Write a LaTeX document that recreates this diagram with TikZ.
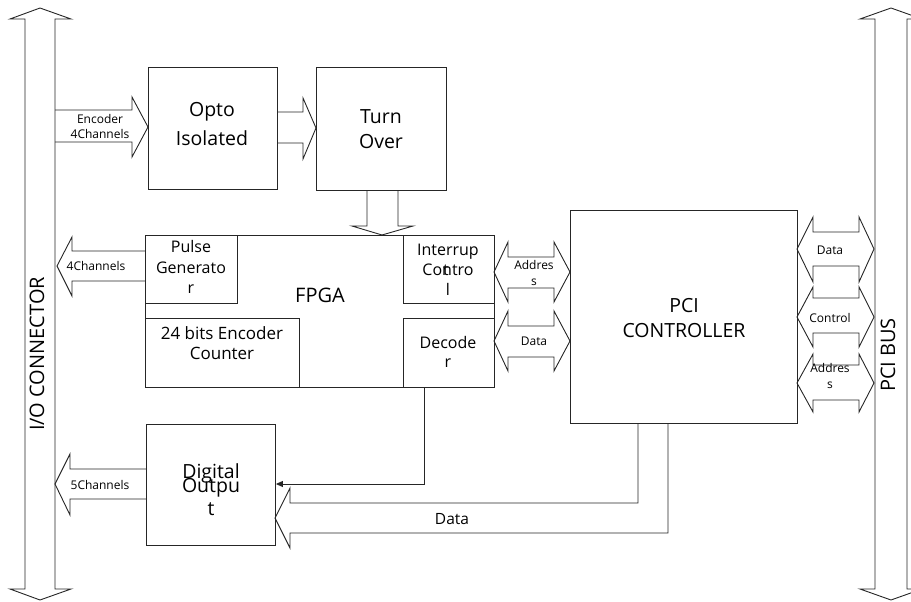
\documentclass[tikz,border=0pt]{standalone}
\usepackage{fontspec}
\setmainfont{Open Sans}
\usetikzlibrary{arrows.meta}
\begin{document}
\begin{tikzpicture}[x=1pt,y=-1pt,
 ln/.style={draw=black!85, line width=0.9pt, line join=miter},
 box/.style={ln, fill=white, inner sep=0, anchor=north west},
 lab/.style={anchor=base, inner sep=0, text=black},
 big/.style={lab, font=\fontsize{19.5}{22}\selectfont},
 mid/.style={lab, font=\fontsize{16}{18}\selectfont},
 sml/.style={lab, font=\fontsize{12}{14}\selectfont},
 vert/.style={anchor=center, inner sep=0, rotate=90, font=\fontsize{20}{24}\selectfont},
]
\useasboundingbox (0,0) rectangle (911,602);
\clip (0,0) rectangle (911,602);

% buses
\draw[ln] (25,19)--(10,19)--(40,8)--(71,19)--(55,19)--(55,589)--(71,589)--(40,600)--(10,589)--(25,589)--cycle;
\draw[ln] (875,19)--(860,19)--(891,8)--(922,19)--(907,19)--(907,589)--(922,589)--(891,600)--(860,589)--(875,589)--cycle;
\node[vert] (iolab) at (37,354) {I/O CONNECTOR};
\node[vert] (pcibus) at (888,355) {PCI BUS};

% boxes
\node[box, minimum width=129pt, minimum height=122pt] (opto) at (148,67) {};
\node[box, minimum width=130pt, minimum height=123pt] (turn) at (316,67) {};
\node[box, minimum width=349pt, minimum height=152pt] (fpga) at (145,235) {};
\node[box, minimum width=92pt, minimum height=68pt] (pulse) at (145,235) {};
\node[box, minimum width=91pt, minimum height=68pt] (intr) at (403,235) {};
\node[box, minimum width=154pt, minimum height=69pt] (enc) at (145,318) {};
\node[box, minimum width=91pt, minimum height=69pt] (dec) at (403,318) {};
\node[box, minimum width=227pt, minimum height=213pt] (pci) at (570,210) {};
\node[box, minimum width=129pt, minimum height=121pt] (dout) at (146,424) {};

% labels in boxes
\node[big] (l1) at (212,117) {Opto};
\node[big] (l2) at (212,145) {Isolated};
\node[big] (l3) at (381,124) {Turn};
\node[big] (l4) at (381,148) {Over};
\node[lab, font=\fontsize{20}{24}\selectfont] (l5) at (320,302) {FPGA};
\node[lab, font=\fontsize{19.5}{24}\selectfont] (l6) at (684,312) {PCI};
\node[lab, font=\fontsize{19.5}{24}\selectfont] (l7) at (684,337) {CONTROLLER};
\node[mid] (l8) at (191,252) {Pulse};
\node[mid] (l9) at (191,273) {Generato};
\node[mid] (l10) at (191,293) {r};
\node[mid] (l11) at (448,255) {Interrup};
\node[mid] (l12) at (448,275) {Contro};
\node[mid] (l13) at (446,275) {t};
\node[mid] (l14) at (448,295) {l};
\node[lab, font=\fontsize{17}{20}\selectfont] (l15) at (222,339) {24 bits Encoder};
\node[lab, font=\fontsize{17}{20}\selectfont] (l16) at (222,359) {Counter};
\node[mid] (l17) at (448,348) {Decode};
\node[mid] (l18) at (448,367) {r};
\node[big] (l19) at (211,478) {Digital};
\node[big] (l20) at (211,492) {Outpu};
\node[big] (l21) at (211,515) {t};

% block arrows
\draw[ln] (55,110)--(132,110)--(132,97)--(148,127)--(132,157)--(132,142)--(55,142);
\node[sml] (a1) at (100,123) {Encoder};
\node[sml] (a2) at (100,139) {4Channels};
\draw[ln] (277,112)--(303,112)--(303,98)--(316,128)--(303,159)--(303,143)--(277,143);
\draw[ln] (367,190)--(367,226)--(352,226)--(382,235)--(413,226)--(398,226)--(398,190);
\draw[ln] (145,251)--(72,251)--(72,237)--(57,266)--(72,296)--(72,281)--(145,281);
\node[sml] (a3) at (96,270) {4Channels};
\draw[ln] (146,469)--(70,469)--(70,454)--(55,484)--(70,515)--(70,499)--(146,499);
\node[sml] (a4) at (100,489) {5Channels};

% FPGA - PCI
\draw[ln] (508,257)--(554,257)--(554,242)--(570,272)--(554,302)--(554,288)--(508,288)--(508,302)--(494,272)--(508,242)--cycle;
\node[sml] (a5) at (534,269) {Addres};
\node[sml] (a6) at (534,285) {s};
\draw[ln] (508,326)--(554,326)--(554,311)--(570,341)--(554,371)--(554,357)--(508,357)--(508,371)--(494,341)--(508,311)--cycle;
\node[sml] (a7) at (534,345) {Data};

% PCI - PCI BUS
\draw[ln] (813,232)--(859,232)--(859,217)--(874,249)--(859,282)--(859,266)--(813,266)--(813,282)--(797,249)--(813,217)--cycle;
\node[sml] (a8) at (830,254) {Data};
\draw[ln] (813,298)--(859,298)--(859,287)--(874,317)--(859,347)--(859,333)--(813,333)--(813,347)--(797,317)--(813,287)--cycle;
\node[sml] (a9) at (830,322) {Control};
\draw[ln] (813,365)--(859,365)--(859,354)--(874,383)--(859,412)--(859,400)--(813,400)--(813,412)--(797,383)--(813,354)--cycle;
\node[sml] (a10) at (830,372) {Addres};
\node[sml] (a11) at (830,388) {s};

% decoder to digital output
\draw[ln, -{Triangle[length=7pt,width=6pt]}] ([xshift=-25pt]dec.south) |- (dout.east |- 0,484);

% PCI data to digital output
\draw[ln] (638,423)--(638,503)--(290,503)--(290,488)--(275,518)--(290,548)--(290,533)--(668,533)--(668,423);
\node[lab, font=\fontsize{15.5}{18}\selectfont] (a12) at (452,524) {Data};
\end{tikzpicture}
\end{document}
